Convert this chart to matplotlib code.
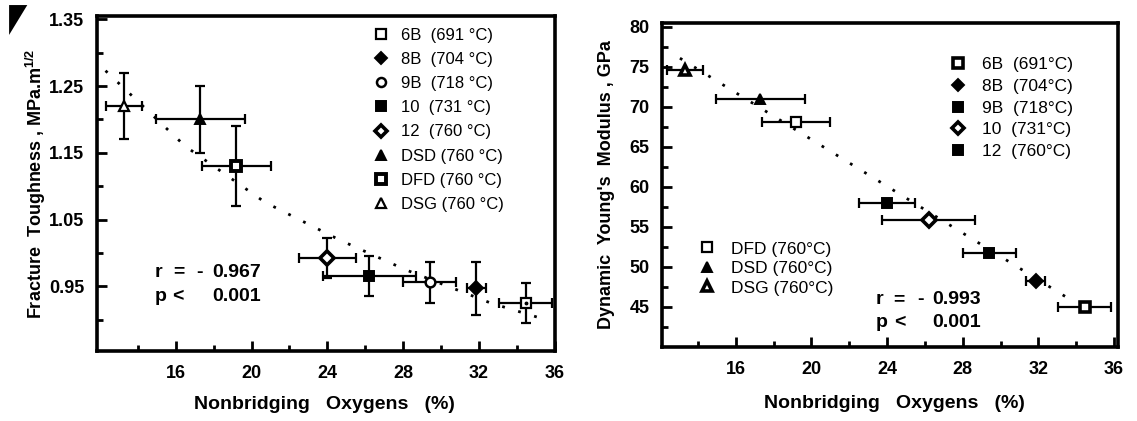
import numpy as np
import matplotlib
matplotlib.use('Agg')
import matplotlib.pyplot as plt
from matplotlib.lines import Line2D
from matplotlib.patches import Polygon
from matplotlib.ticker import FormatStrFormatter

plt.rcParams['font.family'] = ['Liberation Sans', 'DejaVu Sans']
plt.rcParams['font.weight'] = 'bold'
plt.rcParams['mathtext.fontset'] = 'custom'
plt.rcParams['mathtext.rm'] = 'Liberation Sans:bold'
plt.rcParams['mathtext.it'] = 'Liberation Sans:bold'
plt.rcParams['mathtext.bf'] = 'Liberation Sans:bold'

# ---------------- data ----------------
glasses = ['DSG', 'DSD', 'DFD', '12', '10', '9B', '8B', '6B']
temps = ['760', '760', '760', '760', '731', '718', '704', '691']
nbo = [13.3, 17.3, 19.2, 24.0, 26.2, 29.4, 31.85, 34.45]          # %
nbo_err = [0.95, 2.35, 1.8, 1.5, 2.45, 1.4, 0.5, 1.4]
kic = [1.22, 1.20, 1.13, 0.993, 0.965, 0.956, 0.947, 0.925]       # MPa m^1/2
kic_err = [0.05, 0.05, 0.06, 0.03, 0.03, 0.031, 0.04, 0.03]
modulus = [74.6, 71.0, 68.1, 58.0, 55.85, 51.7, 48.3, 45.0]        # GPa

# dotted regression traces
fitL_x = [12.3, 16.5, 20.7, 24.6, 28.1, 32.6, 35.5]
fitL_y = [1.273, 1.16, 1.076, 1.02, 0.975, 0.925, 0.90]
fitR_x = [13.05, 33.7]
fitR_y = [76.1, 45.9]

r_left, p_left = '0.967', '0.001'
r_right, p_right = '0.993', '0.001'

legendL_order = ['6B', '8B', '9B', '10', '12', 'DSD', 'DFD', 'DSG']
legendR_upper = ['6B', '8B', '9B', '10', '12']
legendR_lower = ['DFD', 'DSD', 'DSG']

# ---------------- styles ----------------
def st(marker, filled, mew=1.4):
    return dict(marker=marker, markerfacecolor='black' if filled else 'white',
                markeredgecolor='black', markeredgewidth=mew)

styleL = {
    '6B': st('s', False, 1.6), '8B': st('D', True), '9B': st('o', False, 1.8),
    '10': st('s', True), '12': st('D', False, 2.6), 'DSD': st('^', True),
    'DFD': st('s', False, 2.8), 'DSG': st('^', False, 1.6),
}
styleR = {
    '6B': st('s', False, 2.6), '8B': st('D', True), '9B': st('s', True),
    '10': st('D', False, 2.6), '12': st('s', True), 'DFD': st('s', False, 1.6),
    'DSD': st('^', True), 'DSG': st('^', False, 2.6),
}

fig = plt.figure(figsize=(11.37, 4.21), dpi=100)
axL = fig.add_axes([0.0853, 0.1663, 0.4028, 0.7957])
axR = fig.add_axes([0.5822, 0.1758, 0.4010, 0.7696])

ebkw = dict(fmt='none', ecolor='black', elinewidth=1.6, capsize=3.6, capthick=1.6, zorder=3)

# ---- left panel ----
axL.plot(fitL_x, fitL_y, color='black', linestyle=(0, (1, 5)), linewidth=2, zorder=2)
axL.errorbar(nbo, kic, xerr=nbo_err, yerr=kic_err, **ebkw)
for g, x, y in zip(glasses, nbo, kic):
    axL.plot([x], [y], linestyle='none', markersize=7, zorder=5, **styleL[g])
    if g == '6B':
        axL.plot([x], [y], linestyle='none', marker='o', markersize=1.8, color='black', zorder=6)

# ---- right panel ----
axR.plot(fitR_x, fitR_y, color='black', linestyle=(0, (1, 5)), linewidth=2, zorder=2)
axR.errorbar(nbo, modulus, xerr=nbo_err, **ebkw)
for g, x, y in zip(glasses, nbo, modulus):
    axR.plot([x], [y], linestyle='none', markersize=7.5, zorder=5, **styleR[g])

# ---- axes formatting ----
for ax in (axL, axR):
    for s in ax.spines.values():
        s.set_linewidth(2.6)
    ax.tick_params(which='both', direction='in', top=False, right=False, width=2,
                   labelsize=13)
    ax.tick_params(axis='x', which='both', pad=10)
    ax.tick_params(axis='y', which='both', pad=9)
    ax.tick_params(which='major', length=7)
    ax.tick_params(which='minor', length=4)
    ax.set_xticks([16, 20, 24, 28, 32, 36])
    ax.set_xticks([14, 18, 22, 26, 30, 34], minor=True)
    ax.set_xlabel('Nonbridging   Oxygens   (%)', fontsize=14, fontweight='bold')

axL.set_xlim(11.85, 36.0)
axL.set_ylim(0.853, 1.355)
axL.set_yticks([0.95, 1.05, 1.15, 1.25, 1.35])
axL.set_yticks([0.90, 1.00, 1.10, 1.20, 1.30], minor=True)
axL.yaxis.set_major_formatter(FormatStrFormatter('%.2f'))
axL.set_ylabel('Fracture  Toughness , MPa.m$^{1/2}$', fontsize=13, fontweight='bold')
axL.yaxis.set_label_coords(-0.108, 0.5)
axL.xaxis.set_label_coords(0.497, -0.134)

axR.set_xlim(12.1, 36.2)
axR.set_ylim(40, 80.5)
axR.set_yticks([45, 50, 55, 60, 65, 70, 75, 80])
axR.set_yticks([42.5, 47.5, 52.5, 57.5, 62.5, 67.5, 72.5, 77.5], minor=True)
axR.set_ylabel("Dynamic  Young's  Modulus , GPa", fontsize=13, fontweight='bold')
axR.yaxis.set_label_coords(-0.102, 0.5)
axR.xaxis.set_label_coords(0.51, -0.148)

# ---- statistics text ----
tkw = dict(fontsize=14, fontweight='bold', va='center')
axL.text(14.9, 0.971, 'r', **tkw); axL.text(15.85, 0.971, '=', **tkw)
axL.text(17.1, 0.971, '-', **tkw); axL.text(17.95, 0.971, r_left, **tkw)
axL.text(14.9, 0.935, 'p', **tkw); axL.text(15.8, 0.935, '<', **tkw)
axL.text(17.95, 0.935, p_left, **tkw)

axR.text(23.4, 45.9, 'r', **tkw); axR.text(24.35, 45.9, '=', **tkw)
axR.text(25.6, 45.9, '-', **tkw); axR.text(26.4, 45.9, r_right, **tkw)
axR.text(23.4, 43.0, 'p', **tkw); axR.text(24.35, 43.0, '<', **tkw)
axR.text(26.4, 43.0, p_right, **tkw)

# ---- legends ----
tmap = dict(zip(glasses, temps))

def handles(names, styles, ms):
    return [Line2D([], [], linestyle='none', markersize=ms, **styles[n]) for n in names]

def label(n, compact):
    deg = '°C' if compact else ' °C'
    if len(n) == 3:
        return f'{n} ({tmap[n]}{deg})'
    return f'{n}  ({tmap[n]}{deg})'

legL = axL.legend(handles(legendL_order, styleL, 6.5), [label(n, False) for n in legendL_order],
                  loc='upper left', bbox_to_anchor=(0.603, 0.965), frameon=False,
                  handlelength=1.0, handletextpad=0.7, labelspacing=0.55, borderpad=0,
                  borderaxespad=0, prop={'size': 12, 'weight': 'normal'})

legR1 = axR.legend(handles(legendR_upper, styleR, 6.5), [label(n, True) for n in legendR_upper],
                   loc='upper left', bbox_to_anchor=(0.63, 0.895), frameon=False,
                   handlelength=1.0, handletextpad=0.9, labelspacing=0.38, borderpad=0,
                   borderaxespad=0, prop={'size': 12.5, 'weight': 'normal'})
axR.add_artist(legR1)
legR2 = axR.legend(handles(legendR_lower, styleR, 6.5), [label(n, True) for n in legendR_lower],
                   loc='upper left', bbox_to_anchor=(0.079, 0.326), frameon=False,
                   handlelength=1.0, handletextpad=0.9, labelspacing=0.25, borderpad=0,
                   borderaxespad=0, prop={'size': 12.5, 'weight': 'normal'})

# scan corner artefact (black triangle at top-left)
fig.patches.append(Polygon([(0.008, 0.988), (0.024, 0.988), (0.008, 0.917)],
                           closed=True, transform=fig.transFigure, facecolor='black',
                           edgecolor='none'))

fig.savefig('out.png', dpi=100, facecolor='white')
